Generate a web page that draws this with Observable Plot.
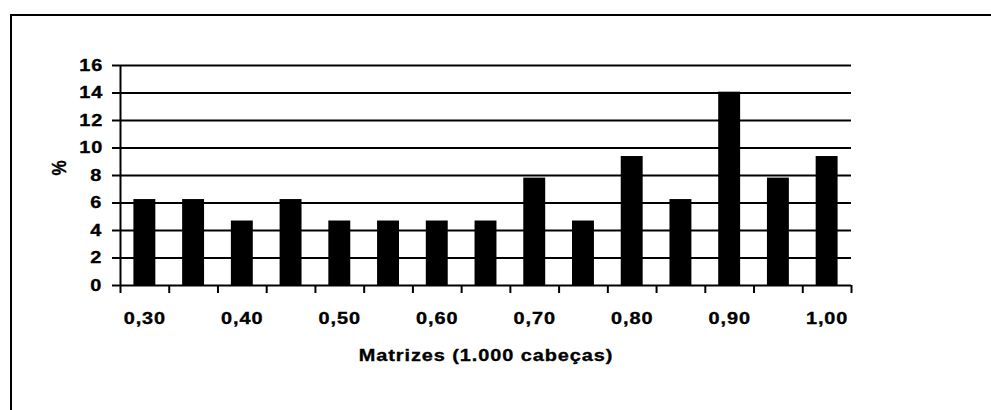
<!DOCTYPE html>
<html>
<head>
<meta charset="utf-8">
<script src="https://cdn.jsdelivr.net/npm/d3@7"></script>
<script src="https://cdn.jsdelivr.net/npm/@observablehq/plot@0.6"></script>
<style>
  html, body { margin: 0; padding: 0; background: #fff; }
  #wrap { position: relative; width: 991px; height: 410px; overflow: hidden; }
  #border { position: absolute; left: 10px; top: 14px; width: 1200px; height: 600px;
            border-left: 2px solid #000; border-top: 2px solid #000; box-sizing: border-box; }
  #chart { position: absolute; left: 0; top: 0; }
  #chart svg text { stroke: #000; stroke-width: 0.35px; }
</style>
</head>
<body>
<div id="wrap"><div id="border"></div><div id="chart"></div></div>
<script>
// Matrizes (1.000 cabeças) categories
const categories = [0.30, 0.35, 0.40, 0.45, 0.50, 0.55, 0.60, 0.65, 0.70, 0.75, 0.80, 0.85, 0.90, 0.95, 1.00];
// percentage of each category
const values = [6.25, 6.25, 4.69, 6.25, 4.69, 4.69, 4.69, 4.69, 7.81, 4.69, 9.38, 6.25, 14.06, 7.81, 9.38];
// tick labels
const yTicks = [0, 2, 4, 6, 8, 10, 12, 14, 16];
const xLabelTicks = [0.30, 0.40, 0.50, 0.60, 0.70, 0.80, 0.90, 1.00];
const xTitle = "Matrizes (1.000 cabeças)";
const yTitle = "%";

const step = 0.05;
const data = categories.map((c, i) => ({m: c, v: values[i]}));
const xDomain = [categories[0] - step / 2, categories[categories.length - 1] + step / 2];
const boundaries = [...categories.map(c => c - step / 2), categories[categories.length - 1] + step / 2];
const halfBar = step * 0.225;
const fmt = d => d3.format(".2f")(d).replace(".", ",");

const chart = Plot.plot({
  width: 991,
  height: 410,
  marginLeft: 120,
  marginRight: 140,
  marginTop: 65,
  marginBottom: 125,
  style: {
    fontFamily: "'Liberation Sans', Arial, sans-serif",
    fontSize: "17px",
    fontWeight: "bold",
    letterSpacing: "0.8px",
    background: "transparent",
    overflow: "visible"
  },
  x: {domain: xDomain},
  y: {domain: [0, 16]},
  marks: [
    Plot.ruleY(yTicks.filter(d => d > 0), {stroke: "#000", strokeWidth: 2}),
    Plot.rectY(data, {x1: d => d.m - halfBar, x2: d => d.m + halfBar, y1: 0, y2: "v", fill: "#000"}),
    Plot.ruleY([0], {stroke: "#000", strokeWidth: 2}),
    Plot.ruleX([xDomain[0]], {y1: 0, y2: 16, stroke: "#000", strokeWidth: 2}),
    Plot.axisY({ticks: yTicks, tickSize: 8, tickPadding: 11, strokeWidth: 2, label: null, tickFormat: d => String(d)}),
    Plot.axisX({ticks: boundaries, tickSize: 8, strokeWidth: 2, tickFormat: () => "", label: null}),
    Plot.axisX({ticks: xLabelTicks, tickSize: 0, tickPadding: 26, tickFormat: fmt, label: null}),
    Plot.text([xTitle], {frameAnchor: "bottom", lineAnchor: "bottom", dy: 75, text: d => d}),
    Plot.text([yTitle], {frameAnchor: "left", rotate: -90, dx: -61, lineAnchor: "middle", text: d => d})
  ]
});
document.getElementById("chart").appendChild(chart);

// The reference's lettering is slightly wide: widen each text horizontally about its own centre.
const sx = 1.17;
chart.querySelectorAll("text").forEach(t => {
  if (!t.textContent) return;
  const r = t.getBoundingClientRect();
  if (!r.width) return;
  const parent = t.parentNode;
  const m = parent.getScreenCTM().inverse();
  const p = new DOMPoint(r.left + r.width / 2, r.top + r.height / 2).matrixTransform(m);
  const g = document.createElementNS("http://www.w3.org/2000/svg", "g");
  g.setAttribute("transform", `translate(${p.x},0) scale(${sx},1) translate(${-p.x},0)`);
  parent.insertBefore(g, t);
  g.appendChild(t);
});
</script>
</body>
</html>
